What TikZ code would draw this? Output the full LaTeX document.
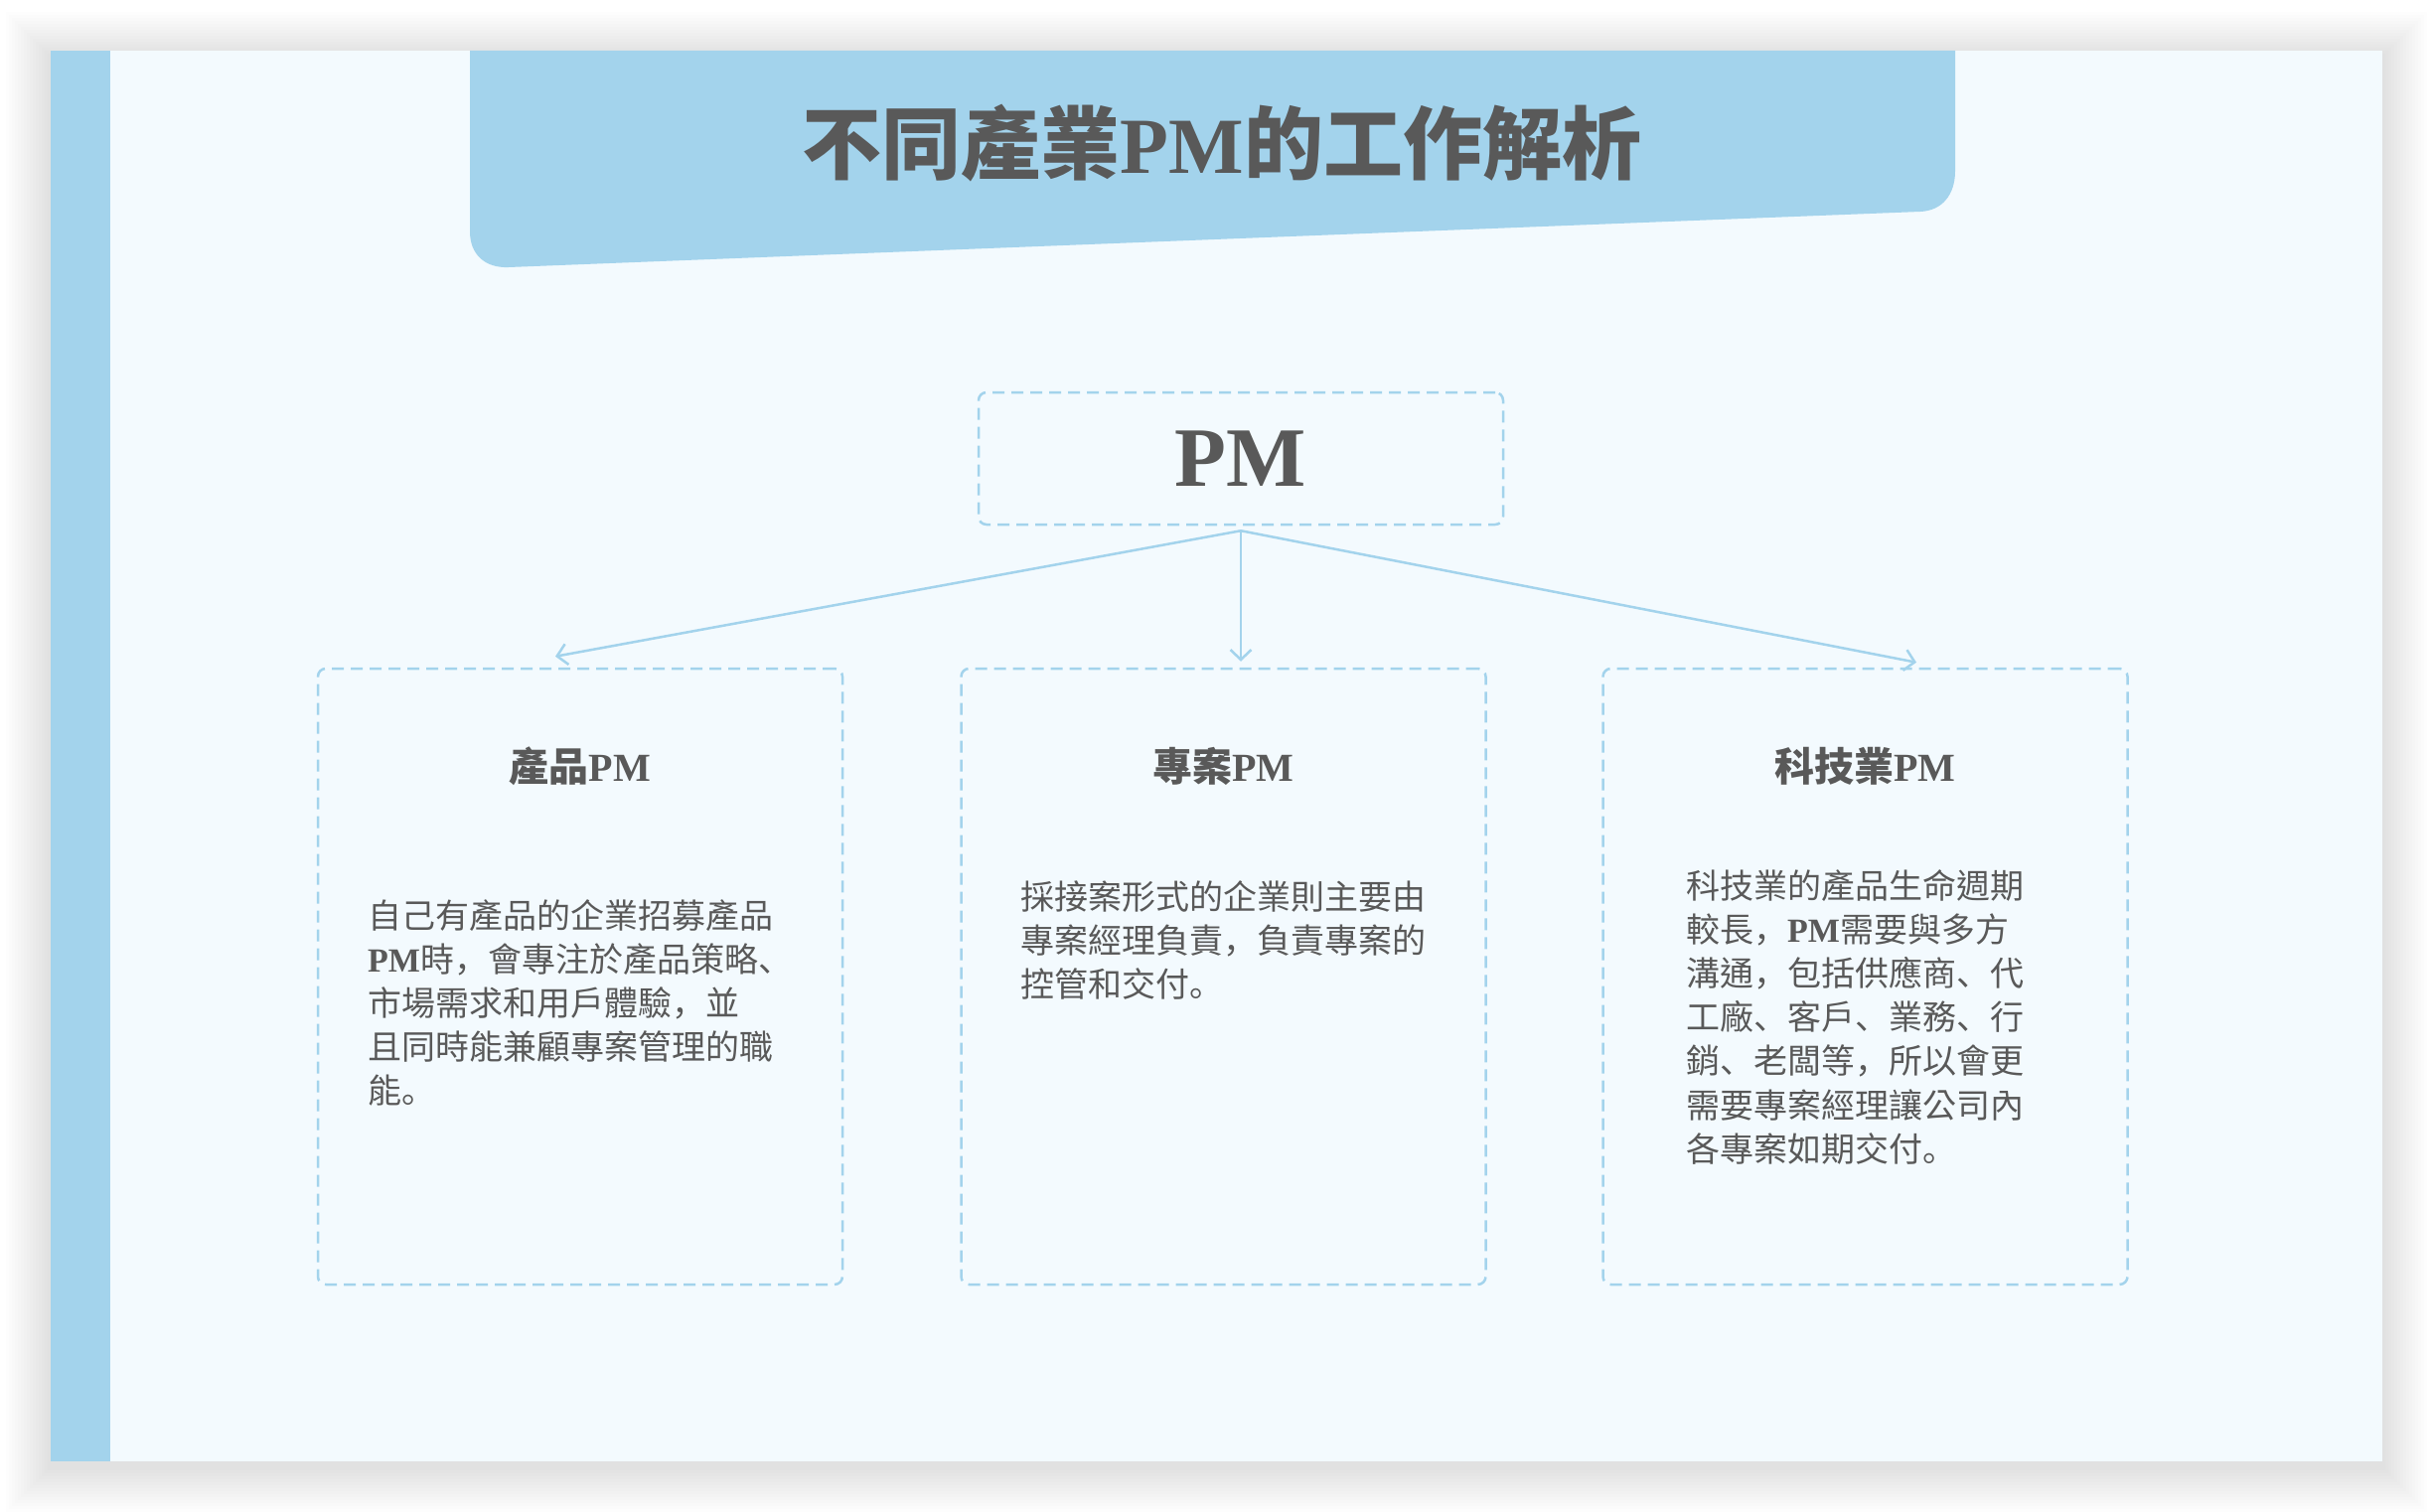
\documentclass[tikz,border=0pt]{standalone}
\usepackage{fontspec}
\setmainfont{Liberation Serif}
\newfontfamily\cjk{Noto Sans CJK TC}
\newfontfamily\cjkpunct{Noto Sans CJK JP}
\usepackage{xcolor}
\usetikzlibrary{positioning,arrows.meta}

\definecolor{slidebg}{HTML}{F3FAFE}
\definecolor{skyband}{HTML}{A3D3EC}
\definecolor{inkgray}{HTML}{595959}
\newcommand{\lat}[1]{{\rmfamily\bfseries #1}}
\newcommand{\pu}[1]{{\cjkpunct #1}}

\begin{document}
\begin{tikzpicture}[x=1pt, y=-1pt, font=\cjk, text=inkgray,
  dashbox/.style={draw=skyband, line width=2.5pt, dash pattern=on 12pt off 7pt,
    rounded corners=8pt, inner sep=0pt},
  boxtitle/.style={font=\cjk\bfseries\fontsize{40}{48}\selectfont},
  boxbody/.style={font=\cjk\fontsize{34}{44.2}\selectfont, align=left,
    anchor=north west, inner sep=0pt},
  link/.style={draw=skyband, line width=2.5pt,
    -{Straight Barb[length=10pt,width=21pt]}}]

  \useasboundingbox (0,0) rectangle (2449,1522);
  \fill[white] (0,0) rectangle (2449,1522);

  % slide with soft shadow
  \foreach \i in {1,...,15} {
    \fill[black, opacity=0.008] (51-3*\i,57-3*\i) rectangle (2398+3*\i,1477+3*\i);
  }
  \fill[slidebg] (51,51) rectangle (2398,1471);
  \fill[skyband] (51,51) rectangle (111,1471);

  % title banner
  \fill[skyband] (473,51) -- (1968,51) -- (1968,172)
    .. controls (1968,196) and (1955,212) .. (1933,213) -- (512,269)
    .. controls (488,270) and (473,256) .. (473,233) -- cycle;
  \node[font=\cjk\bfseries\fontsize{80}{86}\selectfont] (title) at (1230,144)
    {不同產業\lat{PM}的工作解析};

  % root
  \node[dashbox, minimum width=528pt, minimum height=133pt,
    font=\rmfamily\bfseries\fontsize{85}{90}\selectfont] (pm) at (1249,461.5) {PM};

  % three kinds
  \node[dashbox, minimum width=528pt, minimum height=620pt] (prod) at (584,983) {};
  \node[dashbox, minimum width=528pt, minimum height=620pt] (proj) at (1231.5,983) {};
  \node[dashbox, minimum width=528pt, minimum height=620pt] (tech) at (1877.5,983) {};

  \node[boxtitle] (prodhead) at (584,771) {產品\lat{PM}};
  \node[boxtitle] (projhead) at (1231.5,771) {專案\lat{PM}};
  \node[boxtitle] (techhead) at (1877.5,771) {科技業\lat{PM}};

  \node[boxbody] (prodtext) at (370,905) {自己有產品的企業招募產品\\
    \lat{PM}時\pu{，}會專注於產品策略\pu{、}\\
    市場需求和用戶體驗\pu{，}並\\
    且同時能兼顧專案管理的職\\
    能\pu{。}};
  \node[boxbody] (projtext) at (1027,886) {採接案形式的企業則主要由\\
    專案經理負責\pu{，}負責專案的\\
    控管和交付\pu{。}};
  \node[boxbody] (techtext) at (1697,875) {科技業的產品生命週期\\
    較長\pu{，}\lat{PM}需要與多方\\
    溝通\pu{，}包括供應商\pu{、}代\\
    工廠\pu{、}客戶\pu{、}業務\pu{、}行\\
    銷\pu{、}老闆等\pu{，}所以會更\\
    需要專案經理讓公司內\\
    各專案如期交付\pu{。}};

  \draw[link] ([yshift=-5pt]pm.south) -- ([xshift=-25pt,yshift=11pt]prod.north);
  \draw[link] ([yshift=-5pt]pm.south) -- ([xshift=17.5pt,yshift=6pt]proj.north);
  \draw[link] ([yshift=-5pt]pm.south) -- ([xshift=51.5pt,yshift=5pt]tech.north);
\end{tikzpicture}
\end{document}
